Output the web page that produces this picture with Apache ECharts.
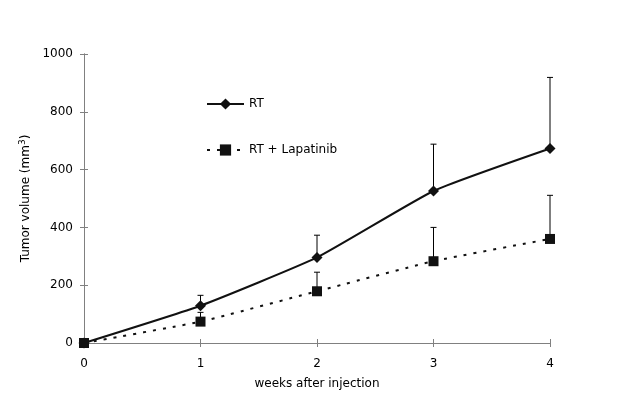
<!DOCTYPE html>
<html>
<head>
<meta charset="utf-8">
<script src="https://cdn.jsdelivr.net/npm/echarts@6/dist/echarts.min.js"></script>
<style>html,body{margin:0;padding:0;background:#fff}#c{width:628px;height:414px}</style>
</head>
<body>
<div id="c"></div>
<script>
var weeks = [0, 1, 2, 3, 4];
var rtMean = [0, 129, 296, 526, 673];
var rtUpper = [0, 165, 373, 688, 919];
var lapMean = [0, 74, 179, 283, 360];
var lapUpper = [0, 106, 245, 400, 511];
var yTicks = [0, 200, 400, 600, 800, 1000];

var FONT = 'DejaVu Sans';
var chart = echarts.init(document.getElementById('c'), null, {renderer: 'canvas'});

function errData(mean, upper) {
  return weeks.map(function (w, i) { return [w, mean[i], upper[i]]; });
}
function errRender(params, api) {
  var x = api.value(0), m = api.value(1), u = api.value(2);
  if (u <= m) return null;
  var p0 = api.coord([x, m]);
  var p1 = api.coord([x, u]);
  var st = {stroke: '#000', lineWidth: 1};
  return {
    type: 'group',
    children: [
      {type: 'line', shape: {x1: p0[0], y1: p0[1], x2: p1[0], y2: p1[1]}, style: st},
      {type: 'line', shape: {x1: p1[0] - 3, y1: p1[1], x2: p1[0] + 3, y2: p1[1]}, style: st}
    ]
  };
}

var axisLine = {lineStyle: {color: '#808080', width: 1}};
chart.setOption({
  animation: false,
  grid: {left: 84, right: 78, top: 54, bottom: 71},
  legend: {
    orient: 'vertical', left: 206, top: 98, padding: 0,
    itemWidth: 37, itemHeight: 14, itemGap: 34,
    textStyle: {fontFamily: FONT, fontSize: 12, color: '#000'},
    data: ['RT', 'RT + Lapatinib']
  },
  xAxis: [{
    type: 'value', min: 0, max: 4, interval: 1, position: 'bottom',
    name: 'weeks after injection', nameLocation: 'middle', nameGap: 35,
    nameTextStyle: {fontFamily: FONT, fontSize: 12, color: '#000'},
    axisLine: axisLine,
    axisTick: {show: true, length: 4, lineStyle: {color: '#808080'}},
    axisLabel: {fontFamily: FONT, fontSize: 12, color: '#000', margin: 15},
    splitLine: {show: false}
  }, {
    type: 'value', min: 0, max: 4, interval: 1, position: 'bottom',
    axisLine: axisLine,
    axisTick: {show: true, inside: true, length: 4, lineStyle: {color: '#808080'}},
    axisLabel: {show: false}, splitLine: {show: false}
  }],
  yAxis: [{
    type: 'value', min: 0, max: 1000, interval: 200, position: 'left',
    name: '{a|Tumor volume (mm}{s|3}{a|)}', nameLocation: 'middle', nameGap: 50,
    nameRotate: 90,
    nameTextStyle: {rich: {
      a: {fontFamily: FONT, fontSize: 12, color: '#000'},
      s: {fontFamily: FONT, fontSize: 9, color: '#000', verticalAlign: 'top', padding: [0, 0, 6, 0]}
    }},
    axisLine: {show: true, lineStyle: {color: '#808080', width: 1}},
    axisTick: {show: true, length: 4, lineStyle: {color: '#808080'}},
    axisLabel: {fontFamily: FONT, fontSize: 12, color: '#000', margin: 11,
      formatter: function (v) { return yTicks.indexOf(v) >= 0 ? String(v) : ''; }},
    splitLine: {show: false}
  }, {
    type: 'value', min: 0, max: 1000, interval: 200, position: 'left',
    axisLine: {show: true, lineStyle: {color: '#808080', width: 1}},
    axisTick: {show: true, inside: true, length: 4, lineStyle: {color: '#808080'}},
    axisLabel: {show: false}, splitLine: {show: false}
  }],
  series: [
    {
      type: 'custom', name: 'errRT', renderItem: errRender, data: errData(rtMean, rtUpper),
      encode: {x: 0, y: [1, 2]}, z: 1, silent: true
    },
    {
      type: 'custom', name: 'errLap', renderItem: errRender, data: errData(lapMean, lapUpper),
      encode: {x: 0, y: [1, 2]}, z: 1, silent: true
    },
    {
      type: 'line', name: 'RT', data: weeks.map(function (w, i) { return [w, rtMean[i]]; }),
      smooth: 0.15, symbol: 'diamond', symbolSize: 11, showAllSymbol: true,
      lineStyle: {color: '#111', width: 2, type: 'solid'},
      itemStyle: {color: '#111'}, z: 3
    },
    {
      type: 'line', name: 'RT + Lapatinib', data: weeks.map(function (w, i) { return [w, lapMean[i]]; }),
      smooth: 0.15, symbol: 'rect', symbolSize: 10, showAllSymbol: true,
      lineStyle: {color: '#111', width: 2, type: [3, 7]},
      itemStyle: {color: '#111'}, z: 4
    }
  ]
});
</script>
</body>
</html>
